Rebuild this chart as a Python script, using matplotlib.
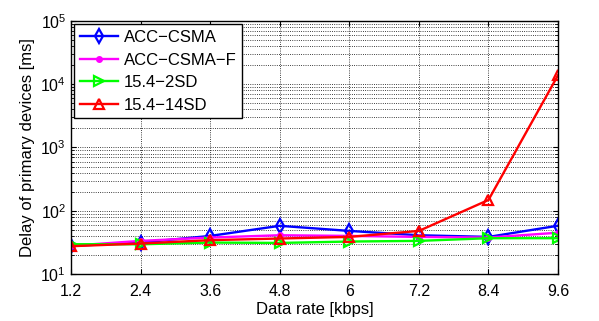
import matplotlib
matplotlib.use('Agg')
import matplotlib.pyplot as plt
from matplotlib.ticker import LogLocator, NullFormatter

plt.rcParams['font.family'] = ['Liberation Sans', 'DejaVu Sans']
plt.rcParams['mathtext.fontset'] = 'custom'
plt.rcParams['mathtext.rm'] = 'Liberation Sans'

rates = [1.2, 2.4, 3.6, 4.8, 6, 7.2, 8.4, 9.6]
rate_labels = ['1.2', '2.4', '3.6', '4.8', '6', '7.2', '8.4', '9.6']

acc_csma = [27.8, 31.4, 40, 57.8, 48, 41, 38.6, 58]
acc_csma_f = [28, 33.4, 37.7, 41, 40, 38.6, 37.7, 45]
sd2 = [29.6, 29.5, 31.4, 31, 32.6, 33.4, 36.8, 36.8]
sd14 = [27.5, 30.3, 34.3, 36.4, 38.6, 48, 148, 13900]

fig = plt.figure(figsize=(5.99, 3.21), dpi=100)
ax = fig.add_axes([0.1185, 0.1464, 0.8131, 0.7882])

ax.plot(rates, acc_csma, color='#0000ff', marker='d', mfc='none', mec='#0000ff',
        ms=7.5, mew=1.6, lw=1.7, label='ACC\u2212CSMA')
ax.plot(rates, acc_csma_f, color='#ff00ff', marker='o', mfc='#ff00ff', mec='#ff00ff',
        ms=4, lw=1.7, label='ACC\u2212CSMA\u2212F')
ax.plot(rates, sd2, color='#00ff00', marker='>', mfc='none', mec='#00ff00',
        ms=7.5, mew=1.6, lw=1.7, label='15.4\u22122SD')
ax.plot(rates, sd14, color='#ff0000', marker='^', mfc='none', mec='#ff0000',
        ms=7.5, mew=1.6, lw=1.7, label='15.4\u221214SD')

ax.set_yscale('log')
ax.set_xlim(1.2, 9.6)
ax.set_ylim(10, 1e5)
ax.set_xticks(rates)
ax.set_xticklabels(rate_labels)
ax.yaxis.set_major_locator(LogLocator(base=10, numticks=10))
ax.yaxis.set_minor_locator(LogLocator(base=10, subs=range(2, 10), numticks=10))
ax.yaxis.set_minor_formatter(NullFormatter())

ax.grid(True, which='major', axis='both', ls=':', color='black', lw=0.6)
ax.grid(True, which='minor', axis='y', ls=':', color='black', lw=0.6)
ax.tick_params(which='both', direction='in', top=True, right=True, labelsize=11.5)
ax.tick_params(axis='x', pad=7)
ax.tick_params(which='minor', length=2)
for s in ax.spines.values():
    s.set_linewidth(1.0)

ax.set_xlabel('Data rate [kbps]', fontsize=12, labelpad=2)
ax.set_ylabel('Delay of primary devices [ms]', fontsize=12)

leg = ax.legend(loc='upper left', fontsize=12, fancybox=False, framealpha=1,
                edgecolor='black', borderaxespad=0.2, handlelength=2.3,
                labelspacing=0.45, borderpad=0.35, handletextpad=0.3)
leg.get_frame().set_linewidth(1.0)

fig.savefig('out.png', dpi=100)
